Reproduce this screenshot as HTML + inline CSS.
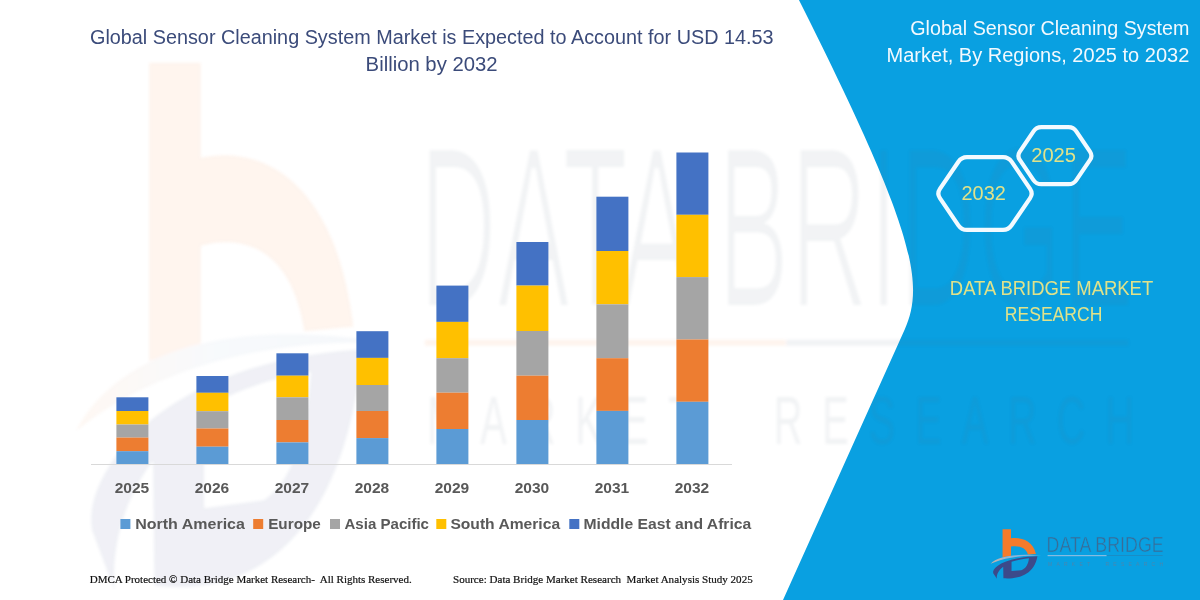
<!DOCTYPE html>
<html lang="en">
<head>
<meta charset="utf-8">
<title>Global Sensor Cleaning System Market</title>
<style>
html,body{margin:0;padding:0;background:#fff;}
body{width:1200px;height:600px;overflow:hidden;font-family:"Liberation Sans",sans-serif;}
svg{display:block;position:absolute;left:0;top:0;}
.sans{font-family:"Liberation Sans",sans-serif;}
.serif{font-family:"Liberation Serif",serif;}
</style>
</head>
<body>
<svg width="1200" height="600" viewBox="0 0 1200 600">
<!-- blue side panel -->
<path id="panel" d="M798.2,-1.5 C912.4,225.5 925.9,282.4 904.7,329.5 L783,600 L1200,600 L1200,-2 Z" fill="#09a0e1"/>
<!-- watermark (stretched faint logo) -->
<defs><filter id="wmblur" x="-5%" y="-5%" width="110%" height="110%"><feGaussianBlur stdDeviation="1.6"/></filter><filter id="wmthin" x="-2%" y="-10%" width="104%" height="120%"><feMorphology operator="erode" radius="0.36 0.02"/></filter><linearGradient id="sw" x1="0" y1="0" x2="1" y2="0"><stop offset="0" stop-color="#f6a56b"/><stop offset="0.45" stop-color="#9db8d6"/><stop offset="1" stop-color="#7f9fc4"/></linearGradient><linearGradient id="sw2" x1="0" y1="0" x2="1" y2="0"><stop offset="0" stop-color="#c9b3a6"/><stop offset="0.4" stop-color="#8db4d8"/><stop offset="1" stop-color="#8db4d8"/></linearGradient></defs>
<g id="watermark" opacity="0.08" filter="url(#wmblur)">
<g transform="translate(-5986.5,-5590.8) scale(6.12,10.68)">
<g transform="translate(985,522) scale(0.10834)">
<path d="M162,68 L240,68 L240,150 C340,138 445,175 470,296 L396,300 C380,238 320,214 240,226 L240,312 L162,326 Z" fill="#f47b2b"/>
<path d="M52,386 C110,322 270,286 522,310 C330,306 165,334 52,386 Z" fill="url(#sw)"/>
<path fill-rule="evenodd" d="M484,316 C380,318 205,338 112,408 C84,430 70,452 76,472 L110,524 C104,482 130,440 168,412 L170,520 C315,530 455,482 484,316 Z M245,366 C300,350 360,338 406,335 C400,392 375,432 335,446 L245,453 Z" fill="#3c4a8a"/>
</g>
<text class="sans" x="1046.6" y="552" font-size="21" fill="#566a80" filter="url(#wmthin)" textLength="117" lengthAdjust="spacingAndGlyphs">DATA BRIDGE</text>
<rect x="1047.6" y="555.3" width="59" height="0.55" fill="#f47b2b"/>
<rect x="1106.6" y="555.3" width="56" height="0.55" fill="#566a80"/>
<text class="sans" x="1048" y="565.1" font-size="6.5" fill="#566a80" textLength="115.5" lengthAdjust="spacing" style="white-space:pre">MARKET  RESEARCH</text>
</g>
</g>
<!-- axis -->
<line x1="91" y1="464.5" x2="732" y2="464.5" stroke="#d9d9d9" stroke-width="1"/>
<!-- bars -->
<g id="bars">
<rect x="116.4" y="397.3" width="32" height="13.7" fill="#4472C4"/>
<rect x="116.4" y="411" width="32" height="13.5" fill="#FFC000"/>
<rect x="116.4" y="424.5" width="32" height="13.1" fill="#A5A5A5"/>
<rect x="116.4" y="437.6" width="32" height="13.6" fill="#ED7D31"/>
<rect x="116.4" y="451.2" width="32" height="12.8" fill="#5B9BD5"/>
<rect x="196.4" y="376" width="32" height="16.8" fill="#4472C4"/>
<rect x="196.4" y="392.8" width="32" height="18.4" fill="#FFC000"/>
<rect x="196.4" y="411.2" width="32" height="17.3" fill="#A5A5A5"/>
<rect x="196.4" y="428.5" width="32" height="18.2" fill="#ED7D31"/>
<rect x="196.4" y="446.7" width="32" height="17.3" fill="#5B9BD5"/>
<rect x="276.4" y="353.3" width="32" height="22.4" fill="#4472C4"/>
<rect x="276.4" y="375.7" width="32" height="21.6" fill="#FFC000"/>
<rect x="276.4" y="397.3" width="32" height="22.7" fill="#A5A5A5"/>
<rect x="276.4" y="420" width="32" height="22.4" fill="#ED7D31"/>
<rect x="276.4" y="442.4" width="32" height="21.6" fill="#5B9BD5"/>
<rect x="356.4" y="331.2" width="32" height="26.7" fill="#4472C4"/>
<rect x="356.4" y="357.9" width="32" height="27.1" fill="#FFC000"/>
<rect x="356.4" y="385" width="32" height="26.0" fill="#A5A5A5"/>
<rect x="356.4" y="411" width="32" height="27.1" fill="#ED7D31"/>
<rect x="356.4" y="438.1" width="32" height="25.9" fill="#5B9BD5"/>
<rect x="436.4" y="285.6" width="32" height="36.3" fill="#4472C4"/>
<rect x="436.4" y="321.9" width="32" height="36.3" fill="#FFC000"/>
<rect x="436.4" y="358.2" width="32" height="34.5" fill="#A5A5A5"/>
<rect x="436.4" y="392.7" width="32" height="36.3" fill="#ED7D31"/>
<rect x="436.4" y="429" width="32" height="35.0" fill="#5B9BD5"/>
<rect x="516.4" y="242" width="32" height="43.6" fill="#4472C4"/>
<rect x="516.4" y="285.6" width="32" height="45.4" fill="#FFC000"/>
<rect x="516.4" y="331" width="32" height="44.7" fill="#A5A5A5"/>
<rect x="516.4" y="375.7" width="32" height="44.3" fill="#ED7D31"/>
<rect x="516.4" y="420" width="32" height="44.0" fill="#5B9BD5"/>
<rect x="596.4" y="196.7" width="32" height="54.3" fill="#4472C4"/>
<rect x="596.4" y="251" width="32" height="53.3" fill="#FFC000"/>
<rect x="596.4" y="304.3" width="32" height="53.9" fill="#A5A5A5"/>
<rect x="596.4" y="358.2" width="32" height="52.7" fill="#ED7D31"/>
<rect x="596.4" y="410.9" width="32" height="53.1" fill="#5B9BD5"/>
<rect x="676.4" y="152.5" width="32" height="62.3" fill="#4472C4"/>
<rect x="676.4" y="214.8" width="32" height="62.3" fill="#FFC000"/>
<rect x="676.4" y="277.1" width="32" height="62.4" fill="#A5A5A5"/>
<rect x="676.4" y="339.5" width="32" height="62.3" fill="#ED7D31"/>
<rect x="676.4" y="401.8" width="32" height="62.2" fill="#5B9BD5"/>
</g>
<!-- year labels -->
<g class="sans" font-size="15" font-weight="bold" fill="#595959">
<text x="132" y="493.3" text-anchor="middle" textLength="34.5" lengthAdjust="spacingAndGlyphs">2025</text>
<text x="212" y="493.3" text-anchor="middle" textLength="34.5" lengthAdjust="spacingAndGlyphs">2026</text>
<text x="292" y="493.3" text-anchor="middle" textLength="34.5" lengthAdjust="spacingAndGlyphs">2027</text>
<text x="372" y="493.3" text-anchor="middle" textLength="34.5" lengthAdjust="spacingAndGlyphs">2028</text>
<text x="452" y="493.3" text-anchor="middle" textLength="34.5" lengthAdjust="spacingAndGlyphs">2029</text>
<text x="532" y="493.3" text-anchor="middle" textLength="34.5" lengthAdjust="spacingAndGlyphs">2030</text>
<text x="612" y="493.3" text-anchor="middle" textLength="34.5" lengthAdjust="spacingAndGlyphs">2031</text>
<text x="692" y="493.3" text-anchor="middle" textLength="34.5" lengthAdjust="spacingAndGlyphs">2032</text>
</g>
<!-- legend -->
<g class="sans" font-size="15" font-weight="bold" fill="#595959">
<rect x="120.4" y="519" width="10" height="10" fill="#5B9BD5"/><text x="135.2" y="529" textLength="109.7" lengthAdjust="spacingAndGlyphs">North America</text>
<rect x="253.2" y="519" width="10" height="10" fill="#ED7D31"/><text x="268.2" y="529" textLength="52.6" lengthAdjust="spacingAndGlyphs">Europe</text>
<rect x="330" y="519" width="10" height="10" fill="#A5A5A5"/><text x="344.5" y="529" textLength="84.5" lengthAdjust="spacingAndGlyphs">Asia Pacific</text>
<rect x="436.3" y="519" width="10" height="10" fill="#FFC000"/><text x="450.4" y="529" textLength="109.7" lengthAdjust="spacingAndGlyphs">South America</text>
<rect x="569.3" y="519" width="10" height="10" fill="#4472C4"/><text x="583.5" y="529" textLength="167.79999999999998" lengthAdjust="spacingAndGlyphs">Middle East and Africa</text>
</g>
<!-- titles -->
<g class="sans" font-size="20" fill="#3b4b7a">
<text x="90" y="44.1" textLength="683.5" lengthAdjust="spacingAndGlyphs">Global Sensor Cleaning System Market is Expected to Account for USD 14.53</text>
<text x="365.6" y="71.1" textLength="132" lengthAdjust="spacingAndGlyphs">Billion by 2032</text>
</g>
<g class="sans" font-size="20" fill="#f2f9fe">
<text x="910.3" y="34.5" textLength="279" lengthAdjust="spacingAndGlyphs">Global Sensor Cleaning System</text>
<text x="886.5" y="62" textLength="302.8" lengthAdjust="spacingAndGlyphs">Market, By Regions, 2025 to 2032</text>
</g>
<g class="sans" font-size="20.5" fill="#e0e28a">
<text x="949.8" y="294.6" textLength="203.4" lengthAdjust="spacingAndGlyphs">DATA BRIDGE MARKET</text>
<text x="1004.8" y="321.4" textLength="97.6" lengthAdjust="spacingAndGlyphs">RESEARCH</text>
</g>
<!-- hexagons -->
<g fill="none" stroke="#f3faff" stroke-width="4.2" stroke-linejoin="round">
<path d="M939.9,198.1 Q936.8,193.5 939.9,188.9 L958.4,161.7 Q961.5,157.1 967.0,157.1 L1003.0,157.1 Q1008.5,157.1 1011.6,161.7 L1030.1,188.9 Q1033.2,193.5 1030.1,198.1 L1011.6,225.3 Q1008.5,229.9 1003.0,229.9 L967.0,229.9 Q961.5,229.9 958.4,225.3 Z"/>
<path d="M1019.8,159.9 Q1017.0,155.8 1019.8,151.6 L1033.5,131.4 Q1036.3,127.2 1041.3,127.2 L1068.5,127.2 Q1073.5,127.2 1076.3,131.4 L1090.0,151.6 Q1092.8,155.8 1090.0,159.9 L1076.3,180.1 Q1073.5,184.2 1068.5,184.2 L1041.3,184.2 Q1036.3,184.2 1033.5,180.1 Z"/>
</g>
<g class="sans" font-size="20.3" fill="#e0e28a">
<text x="961.5" y="200" textLength="44.3" lengthAdjust="spacingAndGlyphs">2032</text>
<text x="1031.2" y="162" textLength="44.8" lengthAdjust="spacingAndGlyphs">2025</text>
</g>
<!-- logo -->
<g id="logo">
<g transform="translate(985,522) scale(0.10834)">
<path d="M162,68 L240,68 L240,150 C340,138 445,175 470,296 L396,300 C380,238 320,214 240,226 L240,312 L162,326 Z" fill="#f47b2b"/>
<path d="M52,386 C110,322 270,286 522,310 C330,306 165,334 52,386 Z" fill="url(#sw2)"/>
<path fill-rule="evenodd" d="M484,316 C380,318 205,338 112,408 C84,430 70,452 76,472 L110,524 C104,482 130,440 168,412 L170,520 C315,530 455,482 484,316 Z M245,366 C300,350 360,338 406,335 C400,392 375,432 335,446 L245,453 Z" fill="#3c4a8a"/>
</g>
<text class="sans" x="1046.6" y="552" font-size="21.8" fill="#3a6c97" stroke="#09a0e1" stroke-width="0.5" textLength="117" lengthAdjust="spacingAndGlyphs">DATA BRIDGE</text>
<rect x="1047.6" y="555" width="59" height="1.2" fill="#86bbe0"/>
<rect x="1106.6" y="555.2" width="56" height="0.8" fill="#3a6c97" opacity="0.45"/>
<text class="sans" x="1048" y="565.6" font-size="5" fill="#4b86ae" textLength="115" lengthAdjust="spacing" style="white-space:pre">MARKET  RESEARCH</text>
</g>
<!-- footer -->
<g class="serif" font-size="11" fill="#111" stroke="#111" stroke-width="0.2">
<text x="89.7" y="583.2" textLength="322" lengthAdjust="spacingAndGlyphs" style="white-space:pre">DMCA Protected &#169; Data Bridge Market Research-  All Rights Reserved.</text>
<text x="453" y="583.2" textLength="299.7" lengthAdjust="spacingAndGlyphs" style="white-space:pre">Source: Data Bridge Market Research  Market Analysis Study 2025</text>
</g>
</svg>
</body>
</html>
